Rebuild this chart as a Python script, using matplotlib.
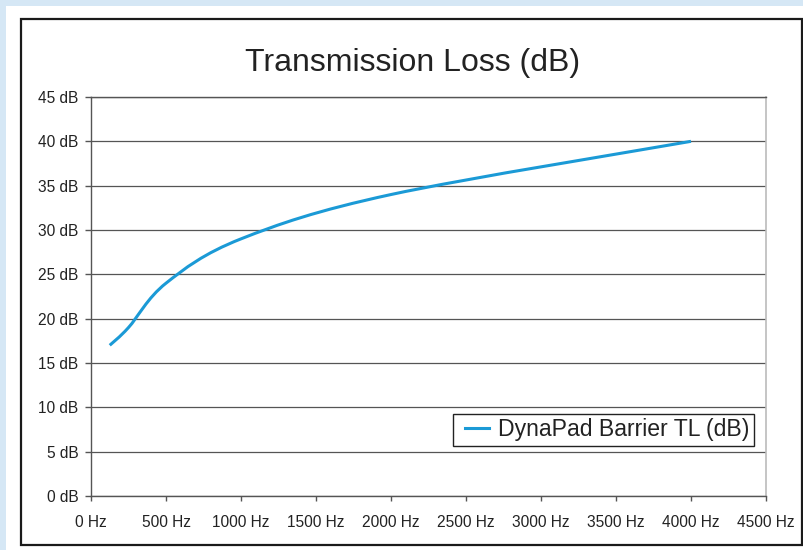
import numpy as np
import matplotlib.pyplot as plt
from matplotlib.path import Path
from matplotlib.patches import PathPatch, Rectangle
from matplotlib.lines import Line2D
from matplotlib.legend_handler import HandlerLine2D

plt.rcParams['font.family'] = ['Liberation Sans', 'DejaVu Sans']

freq = np.array([125, 250, 500, 1000, 2000, 4000])
tl = np.array([17, 19, 24, 29, 34, 40])
series_name = "DynaPad Barrier TL (dB)"
line_col = "#1b9ad6"

W, H = 804, 550
fig = plt.figure(figsize=(W / 100, H / 100), dpi=100, facecolor="#d5e7f5")

# white panel + black chart border, kept behind the axes
fig.patches.append(Rectangle((6 / W, 0), 1, 1 - 6 / H, transform=fig.transFigure,
                             facecolor="white", edgecolor="none", zorder=-3))
fig.patches.append(Rectangle((21 / W, 5 / H), (802 - 21) / W, (545 - 19) / H,
                             transform=fig.transFigure, facecolor="none",
                             edgecolor="#1a1a1a", lw=1.6, zorder=-2))

ax = fig.add_axes([91 / W, 1 - 496 / H, (766 - 91) / W, (496 - 97) / H])
ax.set_zorder(1)
ax.set_facecolor("white")
ax.set_xlim(0, 4500)
ax.set_ylim(0, 45)
ax.set_xticks(np.arange(0, 4501, 500))
ax.set_yticks(np.arange(0, 46, 5))
ax.set_xticklabels([f"{v} Hz" for v in range(0, 4501, 500)])
ax.set_yticklabels([f"{v} dB" for v in range(0, 46, 5)])
ax.tick_params(axis="both", labelsize=11.2, colors="#555555", labelcolor="#222222", width=1)
ax.tick_params(axis="y", length=4, pad=5)
ax.tick_params(axis="x", length=3.5, pad=10)
ax.yaxis.grid(True, color="#555555", lw=0.9)
ax.set_axisbelow(True)
for s in ["left", "bottom", "top"]:
    ax.spines[s].set_color("#555555")
    ax.spines[s].set_linewidth(1)
ax.spines["right"].set_color("#bbbbbb")
ax.spines["right"].set_linewidth(1.2)

# smoothed line (bezier through the points, spreadsheet style)
pts = np.column_stack([freq, tl]).astype(float)
ext = np.vstack([pts[0], pts, pts[-1]])
verts = [pts[0]]
codes = [Path.MOVETO]
for i in range(len(pts) - 1):
    p0, p1, p2, p3 = ext[i], ext[i + 1], ext[i + 2], ext[i + 3]
    c1 = p1 + (p2 - p0) / 6
    c2 = p2 - (p3 - p1) / 6
    verts += [c1, c2, p2]
    codes += [Path.CURVE4] * 3
ax.add_patch(PathPatch(Path(verts, codes), fill=False, edgecolor=line_col,
                       lw=2.2, capstyle="butt", zorder=3))

fig.text(413 / W, 1 - 63 / H, "Transmission Loss (dB)", ha="center", va="center",
         fontsize=23, color="#222222")

handle = Line2D([], [], color=line_col, lw=2.2)
leg = ax.legend([handle], [series_name], loc="lower right",
                bbox_to_anchor=(754 / W, 104 / H), bbox_transform=fig.transFigure,
                fancybox=False, framealpha=1, edgecolor="#222222", fontsize=16.6,
                borderaxespad=0, borderpad=0.2, handlelength=1.36, handletextpad=0.4,
                handler_map={Line2D: HandlerLine2D(xpad=0.32)})
leg.get_frame().set_linewidth(1)
for t in leg.get_texts():
    t.set_color("#222222")

fig.savefig("out.png", dpi=100, facecolor=fig.get_facecolor())
